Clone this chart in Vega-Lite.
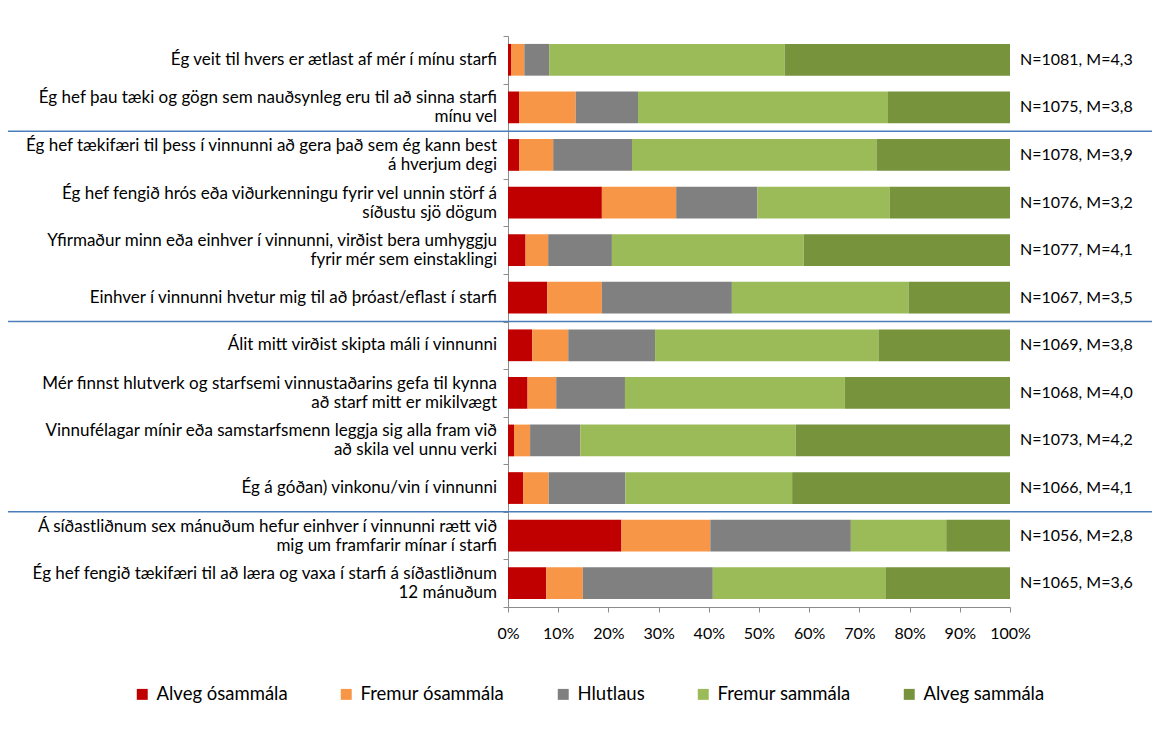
{
  "$schema": "https://vega.github.io/schema/vega-lite/v6.json",
  "width": 502,
  "height": 571,
  "autosize": {"type": "none"},
  "padding": {"left": 508, "top": 36, "right": 142, "bottom": 129},
  "background": "white",
  "config": {
    "font": "Lato",
    "view": {"stroke": null},
    "axis": {"labelFont": "Lato", "labelColor": "#000000", "domainColor": "#8c8c8c", "tickColor": "#8c8c8c", "title": null, "grid": false}
  },
  "datasets": {
    "items": [
      {"q": 1, "item": "Ég veit til hvers er ætlast af mér í mínu starfi", "nm": "N=1081, M=4,3", "sepAbove": false, "twoLines": false},
      {"q": 2, "item": "Ég hef þau tæki og gögn sem nauðsynleg eru til að sinna starfi\nmínu vel", "nm": "N=1075, M=3,8", "sepAbove": false, "twoLines": true},
      {"q": 3, "item": "Ég hef tækifæri til þess í vinnunni að gera það sem ég kann best\ná hverjum degi", "nm": "N=1078, M=3,9", "sepAbove": true, "twoLines": true},
      {"q": 4, "item": "Ég hef fengið hrós eða viðurkenningu fyrir vel unnin störf á\nsíðustu sjö dögum", "nm": "N=1076, M=3,2", "sepAbove": false, "twoLines": true},
      {"q": 5, "item": "Yfirmaður minn eða einhver í vinnunni, virðist bera umhyggju\nfyrir mér sem einstaklingi", "nm": "N=1077, M=4,1", "sepAbove": false, "twoLines": true},
      {"q": 6, "item": "Einhver í vinnunni hvetur mig til að þróast/eflast í starfi", "nm": "N=1067, M=3,5", "sepAbove": false, "twoLines": false},
      {"q": 7, "item": "Álit mitt virðist skipta máli í vinnunni", "nm": "N=1069, M=3,8", "sepAbove": true, "twoLines": false},
      {"q": 8, "item": "Mér finnst hlutverk og starfsemi vinnustaðarins gefa til kynna\nað starf mitt er mikilvægt", "nm": "N=1068, M=4,0", "sepAbove": false, "twoLines": true},
      {"q": 9, "item": "Vinnufélagar mínir eða samstarfsmenn leggja sig alla fram við\nað skila vel unnu verki", "nm": "N=1073, M=4,2", "sepAbove": false, "twoLines": true},
      {"q": 10, "item": "Ég á góðan) vinkonu/vin í vinnunni", "nm": "N=1066, M=4,1", "sepAbove": false, "twoLines": false},
      {"q": 11, "item": "Á síðastliðnum sex mánuðum hefur einhver í vinnunni rætt við\nmig um framfarir mínar í starfi", "nm": "N=1056, M=2,8", "sepAbove": true, "twoLines": true},
      {"q": 12, "item": "Ég hef fengið tækifæri til að læra og vaxa í starfi á síðastliðnum\n12 mánuðum", "nm": "N=1065, M=3,6", "sepAbove": false, "twoLines": true}
    ],
    "scale": [
      {"s": 1, "resp": "Alveg ósammála"},
      {"s": 2, "resp": "Fremur ósammála"},
      {"s": 3, "resp": "Hlutlaus"},
      {"s": 4, "resp": "Fremur sammála"},
      {"s": 5, "resp": "Alveg sammála"}
    ],
    "answers": [
      {"q": 1, "s": 1, "p": 0.6}, {"q": 1, "s": 2, "p": 2.65}, {"q": 1, "s": 3, "p": 4.95}, {"q": 1, "s": 4, "p": 46.9}, {"q": 1, "s": 5, "p": 44.9},
      {"q": 2, "s": 1, "p": 2.2}, {"q": 2, "s": 2, "p": 11.3}, {"q": 2, "s": 3, "p": 12.4}, {"q": 2, "s": 4, "p": 49.8}, {"q": 2, "s": 5, "p": 24.3},
      {"q": 3, "s": 1, "p": 2.2}, {"q": 3, "s": 2, "p": 6.8}, {"q": 3, "s": 3, "p": 15.7}, {"q": 3, "s": 4, "p": 48.7}, {"q": 3, "s": 5, "p": 26.6},
      {"q": 4, "s": 1, "p": 18.7}, {"q": 4, "s": 2, "p": 14.8}, {"q": 4, "s": 3, "p": 16.2}, {"q": 4, "s": 4, "p": 26.3}, {"q": 4, "s": 5, "p": 24.0},
      {"q": 5, "s": 1, "p": 3.5}, {"q": 5, "s": 2, "p": 4.5}, {"q": 5, "s": 3, "p": 12.7}, {"q": 5, "s": 4, "p": 38.2}, {"q": 5, "s": 5, "p": 41.1},
      {"q": 6, "s": 1, "p": 7.8}, {"q": 6, "s": 2, "p": 10.9}, {"q": 6, "s": 3, "p": 25.9}, {"q": 6, "s": 4, "p": 35.2}, {"q": 6, "s": 5, "p": 20.2},
      {"q": 7, "s": 1, "p": 4.8}, {"q": 7, "s": 2, "p": 7.2}, {"q": 7, "s": 3, "p": 17.3}, {"q": 7, "s": 4, "p": 44.5}, {"q": 7, "s": 5, "p": 26.2},
      {"q": 8, "s": 1, "p": 3.9}, {"q": 8, "s": 2, "p": 5.7}, {"q": 8, "s": 3, "p": 13.7}, {"q": 8, "s": 4, "p": 43.8}, {"q": 8, "s": 5, "p": 32.9},
      {"q": 9, "s": 1, "p": 1.2}, {"q": 9, "s": 2, "p": 3.2}, {"q": 9, "s": 3, "p": 10.0}, {"q": 9, "s": 4, "p": 42.9}, {"q": 9, "s": 5, "p": 42.7},
      {"q": 10, "s": 1, "p": 3.0}, {"q": 10, "s": 2, "p": 5.1}, {"q": 10, "s": 3, "p": 15.3}, {"q": 10, "s": 4, "p": 33.2}, {"q": 10, "s": 5, "p": 43.4},
      {"q": 11, "s": 1, "p": 22.6}, {"q": 11, "s": 2, "p": 17.7}, {"q": 11, "s": 3, "p": 28.0}, {"q": 11, "s": 4, "p": 19.0}, {"q": 11, "s": 5, "p": 12.7},
      {"q": 12, "s": 1, "p": 7.6}, {"q": 12, "s": 2, "p": 7.3}, {"q": 12, "s": 3, "p": 25.9}, {"q": 12, "s": 4, "p": 34.5}, {"q": 12, "s": 5, "p": 24.7}
    ]
  },
  "data": {"name": "answers"},
  "transform": [
    {"lookup": "q", "from": {"data": {"name": "items"}, "key": "q", "fields": ["item", "nm", "sepAbove", "twoLines"]}},
    {"lookup": "s", "from": {"data": {"name": "scale"}, "key": "s", "fields": ["resp"]}}
  ],
  "layer": [
    {
      "mark": {"type": "bar", "height": {"band": 0.667}},
      "encoding": {
        "y": {
          "field": "item", "type": "nominal", "sort": {"field": "q", "op": "min"},
          "scale": {"paddingInner": 0, "paddingOuter": 0},
          "axis": {"labels": false, "tickSize": 5, "tickBand": "extent"}
        },
        "x": {
          "field": "p", "type": "quantitative", "stack": "normalize",
          "scale": {"domain": [0, 1]},
          "axis": {
            "format": ".0%", "values": [0, 0.1, 0.2, 0.3, 0.4, 0.5, 0.6, 0.7, 0.8, 0.9, 1],
            "labelFontSize": 16, "tickSize": 5, "labelPadding": 13, "labelOverlap": false, "labelFlush": false
          }
        },
        "color": {
          "field": "resp", "type": "nominal",
          "scale": {
            "domain": ["Alveg ósammála", "Fremur ósammála", "Hlutlaus", "Fremur sammála", "Alveg sammála"],
            "range": ["#C00000", "#F79646", "#808080", "#9BBB59", "#77933C"]
          },
          "legend": {
            "title": null, "orient": "none", "legendX": -375, "legendY": 649,
            "direction": "horizontal", "symbolType": "square", "symbolSize": 120,
            "symbolStrokeWidth": 0, "labelFontSize": 18.5, "labelFont": "Lato", "labelColor": "#000000",
            "columnPadding": 49, "labelOffset": 5, "padding": 0
          }
        },
        "order": {"field": "s", "type": "quantitative"}
      }
    },
    {
      "transform": [{"filter": "datum.s == 1 && !datum.twoLines"}],
      "mark": {"type": "text", "align": "right", "baseline": "middle", "dx": -11, "fontSize": 17, "font": "Lato", "color": "#000000"},
      "encoding": {
        "y": {"field": "item", "type": "nominal", "sort": {"field": "q", "op": "min"}},
        "x": {"datum": 0, "type": "quantitative", "scale": {"domain": [0, 1]}},
        "text": {"field": "item"}
      }
    },
    {
      "transform": [{"filter": "datum.s == 1 && datum.twoLines"}],
      "mark": {"type": "text", "align": "right", "baseline": "middle", "dx": -11, "dy": -9, "lineBreak": "\n", "lineHeight": 19, "fontSize": 17, "font": "Lato", "color": "#000000"},
      "encoding": {
        "y": {"field": "item", "type": "nominal", "sort": {"field": "q", "op": "min"}},
        "x": {"datum": 0, "type": "quantitative", "scale": {"domain": [0, 1]}},
        "text": {"field": "item"}
      }
    },
    {
      "transform": [{"filter": "datum.s == 1"}],
      "mark": {"type": "text", "align": "left", "baseline": "middle", "dx": 10, "fontSize": 16, "font": "Lato", "color": "#000000"},
      "encoding": {
        "y": {"field": "item", "type": "nominal", "sort": {"field": "q", "op": "min"}},
        "x": {"datum": 1, "type": "quantitative", "scale": {"domain": [0, 1]}},
        "text": {"field": "nm"}
      }
    },
    {
      "transform": [{"filter": "datum.s == 1 && datum.sepAbove"}],
      "mark": {"type": "rule", "color": "#4A7EBB", "strokeWidth": 1.5},
      "encoding": {
        "y": {"field": "item", "type": "nominal", "sort": {"field": "q", "op": "min"}, "bandPosition": 0},
        "x": {"datum": -0.996, "type": "quantitative", "scale": {"domain": [0, 1]}},
        "x2": {"datum": 1.3}
      }
    }
  ]
}
